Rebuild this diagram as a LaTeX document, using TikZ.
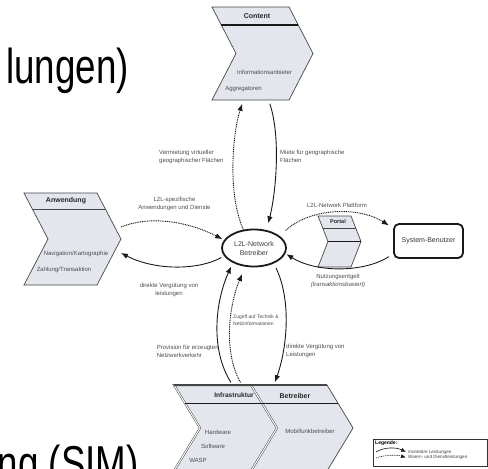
\documentclass[tikz,border=0pt]{standalone}
\usepackage{tikz}
\usepackage{fontspec}
\setmainfont{Liberation Sans}
\usetikzlibrary{shapes.geometric}
\usetikzlibrary{positioning}
\usetikzlibrary{arrows.meta}

\definecolor{chevfill}{RGB}{227,230,237}
\definecolor{chevline}{RGB}{70,70,70}

\begin{document}
\begin{tikzpicture}[x=1pt, y=-1pt,
        >={Latex[length=7pt,width=5.5pt]},
        chevbox/.style={inner sep=0pt, outer sep=0pt},
        chev/.style={fill=chevfill, draw=chevline, line width=0.7pt},
        chevdouble/.style={fill=chevfill, draw=chevline, line width=0.5pt, double=white, double distance=1pt},
        chevtitle/.style={font=\fontsize{7}{8}\selectfont\bfseries, text=black!85, inner sep=0pt},
        chevtext/.style={font=\fontsize{6}{7}\selectfont, text=black!70, inner sep=0pt},
        flow/.style={->, line width=0.9pt, draw=black!90},
        goods/.style={->, line width=0.9pt, dash pattern=on 1pt off 0.8pt, draw=black!90},
        lbl/.style={font=\fontsize{6}{8}\selectfont, text=black!70, inner sep=0pt},
        legtext/.style={font=\fontsize{4.6}{5}\selectfont, text=black!75, inner sep=0pt},
        bigtext/.style={font=\fontsize{49}{55}\selectfont, xscale=0.75, inner sep=0pt}]
        \path[use as bounding box, clip] (0,0) rectangle (488,469);

        \node (bgtop) [bigtext, anchor=base east] at (129,83) {lungen)};
        \node (bgbottom) [bigtext, anchor=base east] at (139,480) {ng (SIM)};

        \node (content) [chevbox, minimum width=101pt, minimum height=93pt] at (262.5,53.5) {};
        \draw[chev] (content.north west) -- ([xshift=-24pt]content.north east) -- (content.east)
            -- ([xshift=-24pt]content.south east) -- (content.south west) -- ([xshift=24pt]content.west) -- cycle;
        \draw[line width=1.5pt, draw=black!90] (221.3,25) -- (298.3,25);
        \node (content title) [chevtitle] at (257,16) {Content};
        \node (content info) [chevtext] at (264.5,72) {Informationsanbieter};
        \node (content aggr) [chevtext] at (243.5,89) {Aggregatoren};

        \node (anwendung) [chevbox, minimum width=97pt, minimum height=92pt] at (72.5,239) {};
        \draw[chev] (anwendung.north west) -- ([xshift=-24pt]anwendung.north east) -- (anwendung.east)
            -- ([xshift=-24pt]anwendung.south east) -- (anwendung.south west) -- ([xshift=24pt]anwendung.west) -- cycle;
        \draw[draw=chevline, line width=0.6pt] (32.3,209) -- (105.3,209);
        \node (anwendung title) [chevtitle] at (66,201) {Anwendung};
        \node (anwendung navi) [chevtext] at (76,254) {Navigation/Kartographie};
        \node (anwendung zahlung) [chevtext] at (64,270) {Zahlung/Transaktion};

        \node (portal) [chevbox, minimum width=43pt, minimum height=51pt] at (339.5,241.5) {};
        \draw[chev] (portal.north west) -- ([xshift=-10pt]portal.north east) -- (portal.east)
            -- ([xshift=-10pt]portal.south east) -- (portal.south west) -- ([xshift=10pt]portal.west) -- cycle;
        \draw[draw=chevline, line width=0.6pt] (322.7,228) -- (355.7,228);
        \draw[line width=1.5pt, draw=black!90] ([xshift=10pt]portal.west) -- (portal.east);
        \node (portal title) [chevtitle, font=\fontsize{5.5}{6}\selectfont\bfseries] at (338,222) {Portal};

        \node (betreiber) [chevbox, minimum width=102pt, minimum height=86pt] at (302,428) {};
        \draw[chev] (betreiber.north west) -- ([xshift=-26pt]betreiber.north east) -- (betreiber.east)
            -- ([xshift=-26pt]betreiber.south east) -- (betreiber.south west) -- ([xshift=26pt]betreiber.west) -- cycle;
        \node (infra) [chevbox, minimum width=103pt, minimum height=86pt] at (225.5,428) {};
        \draw[chevdouble] (infra.north west) -- ([xshift=-26pt]infra.north east) -- (infra.east)
            -- ([xshift=-26pt]infra.south east) -- (infra.south west) -- ([xshift=26pt]infra.west) -- cycle;
        \draw[line width=1.5pt, draw=chevline] (infra.north west) -- ([xshift=-26pt]betreiber.north east);
        \draw[draw=black!90, line width=0.6pt] (185,403) -- (338,403);
        \node (infra title) [chevtitle, font=\fontsize{6.6}{8}\selectfont\bfseries] at (234,395) {Infrastruktur};
        \node (betreiber title) [chevtitle] at (295,395.5) {Betreiber};
        \node (infra hw) [chevtext] at (218,432) {Hardware};
        \node (infra sw) [chevtext] at (213,446.5) {Software};
        \node (infra wasp) [chevtext] at (198,460) {WASP};
        \node (betreiber mobil) [chevtext] at (310,431.5) {Mobilfunkbetreiber};

        \node (l2l) [ellipse, draw=black!90, line width=1.8pt, minimum width=64pt, minimum height=37pt, inner sep=0pt,
            align=center, font=\fontsize{7}{9}\selectfont, text=black!75] at (254,248) {L2L-Network\\Betreiber};
        \node (benutzer) [draw=black!90, line width=1.8pt, rounded corners=5pt, minimum width=69pt, minimum height=34pt,
            font=\fontsize{7}{8}\selectfont, text=black!80] at (428.5,241) {System-Benutzer};

        \draw[goods, shorten >=4pt] (l2l.120) .. controls +(-16,-35) and +(-11,33) .. ([xshift=-19pt]content.south);
        \draw[flow, shorten <=4pt, shorten >=7pt] ([xshift=6pt]content.south) .. controls +(12,35) and +(10,-40) .. (l2l.55);
        \draw[goods, shorten >=2pt] ([yshift=12pt]anwendung.east) .. controls +(30,-12) and +(-35,-18) .. (l2l.165);
        \draw[flow, shorten <=3pt] (l2l.195) .. controls +(-25,14) and +(35,18) .. ([yshift=-14pt]anwendung.east);
        \draw[goods, shorten <=8pt, shorten >=5pt] (l2l.25) .. controls +(30,-28) and +(-35,-22) .. ([yshift=13pt]benutzer.west);
        \draw[flow, shorten <=5pt, shorten >=1pt] ([yshift=-13pt]benutzer.west) .. controls +(-30,19) and +(30,19) .. (l2l.350);
        \draw[flow, shorten <=3pt, shorten >=4pt] ([xshift=7pt]infra.north) .. controls +(-22,-35) and +(-18,40) .. (l2l.215);
        \draw[goods, shorten <=3pt, shorten >=8pt] ([xshift=16.5pt]infra.north) .. controls +(-20,-35) and +(-15,35) .. (l2l.245);
        \draw[flow, shorten <=5pt, shorten >=3pt] (l2l.322) .. controls +(17,35) and +(14,-40) .. ([xshift=-28pt]betreiber.north);

        \node (lbl vermietung) [lbl, align=left, anchor=west] at (159,156.7) {Vermietung virtueller\\geographischer Flächen};
        \node (lbl miete) [lbl, align=left, anchor=west] at (280,156.7) {Miete für geographische\\Flächen};
        \node (lbl spezifisch) [lbl, align=center] at (174.5,204) {L2L-spezifische\\Anwendungen und Dienste};
        \node (lbl direkt a) [lbl, align=center] at (169,289.5) {direkte Vergütung von\\leistungen};
        \node (lbl plattform) [lbl] at (337,205.7) {L2L-Network Plattform};
        \node (lbl nutzung) [lbl, align=center] at (338,281) {Nutzungsentgelt\\\textit{(transaktionsbasiert)}};
        \node (lbl provision) [lbl, align=left, anchor=west] at (156.7,351) {Provision für erzeugten\\Netzwerkverkehr};
        \node (lbl zugriff) [lbl, font=\fontsize{5}{6.6}\selectfont, align=left, anchor=west] at (233,320) {Zugriff auf Technik \&\\Netzinformationen};
        \node (lbl direkt b) [lbl, align=left, anchor=west] at (286,351) {direkte Vergütung von\\Leistungen};

        \node (legende) [draw=black!80, line width=0.7pt, minimum width=114pt, minimum height=27pt, inner sep=0pt] at (430,452.5) {};
        \node (legende title) [font=\fontsize{5}{6}\selectfont\bfseries, anchor=west, inner sep=0pt] at (375,443.5) {Legende:};
        \node (leg money) [legtext, anchor=west] at (408,452) {monetäre Leistungen};
        \node (leg goods) [legtext, anchor=west] at (408,457.5) {Waren- und Dienstleistungen};
        \coordinate (leg money start) at (376,452);
        \coordinate (leg goods start) at (376,458);
        \draw[flow, line width=0.6pt, >={Latex[length=5pt,width=4pt]}] (leg money start) .. controls +(8,-5) and +(-10,-5) .. ([xshift=-2pt]leg money.west);
        \draw[goods, line width=0.6pt, >={Latex[length=5pt,width=4pt]}] (leg goods start) .. controls +(8,-3) and +(-10,-3) .. ([xshift=-2pt]leg goods.west);
\end{tikzpicture}
\end{document}
